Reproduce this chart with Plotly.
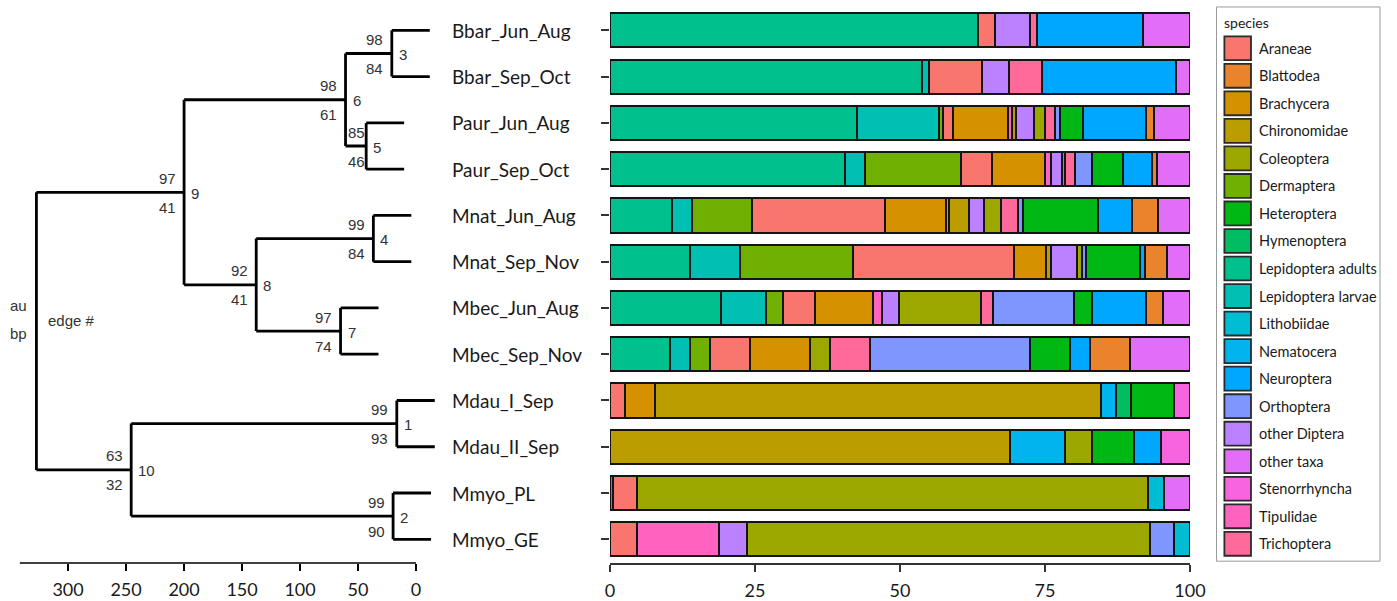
import math
import plotly.graph_objects as go

W, H = 1397, 601

# ---------------------------------------------------------------- data
samples = [
    "Bbar_Jun_Aug", "Bbar_Sep_Oct", "Paur_Jun_Aug", "Paur_Sep_Oct",
    "Mnat_Jun_Aug", "Mnat_Sep_Nov", "Mbec_Jun_Aug", "Mbec_Sep_Nov",
    "Mdau_I_Sep", "Mdau_II_Sep", "Mmyo_PL", "Mmyo_GE",
]

# diet composition (% of reads) per sample, in the order of `samples`; None = absent
araneae            = [3.0, 9.1, 1.7, 5.3, 23.0, 27.7, 5.6, 7.0, 2.5, None, 4.1, 4.7]
blattodea          = [None, None, 1.4, 1.0, 4.5, 3.8, 3.0, 7.0, None, None, None, None]
brachycera         = [None, None, 9.5, 9.2, 10.5, 5.6, 9.9, 10.3, 5.2, None, None, None]
chironomidae       = [None, None, 0.7, None, 3.5, 0.8, None, None, 77.0, 69.0, None, None]
coleoptera         = [None, None, 1.8, 0.5, 2.9, 0.9, 14.1, 3.5, None, 4.8, 88.1, 69.5]
dermaptera         = [None, None, 0.7, 16.7, 10.3, 19.5, 2.9, 3.4, None, None, None, None]
heteroptera        = [None, None, 3.9, 5.2, 12.9, 9.3, 3.1, 7.0, 7.5, 7.2, None, None]
hymenoptera        = [None, None, None, None, None, None, None, None, 2.6, None, None, None]
lepidoptera_adults = [63.4, 53.8, 42.6, 40.6, 10.7, 13.8, 19.1, 10.3, None, None, 0.6, None]
lepidoptera_larvae = [None, 1.2, 14.1, 3.3, 3.5, 8.6, 7.8, 3.5, None, None, None, None]
lithobiidae        = [None, None, None, None, None, None, None, None, None, None, 2.8, 2.7]
nematocera         = [None, None, None, None, None, None, None, None, 2.5, 9.4, None, None]
neuroptera         = [18.2, 23.1, 10.9, 5.0, 5.8, 0.9, 9.3, 3.3, None, 4.7, None, None]
orthoptera         = [None, None, 0.9, 3.0, 0.9, 0.7, 14.0, 27.5, None, None, None, 4.2]
other_diptera      = [6.1, 4.7, 3.1, 2.0, 2.6, 4.5, 2.9, None, None, None, None, 4.8]
other_taxa         = [8.1, 2.4, 6.2, 5.6, 5.5, 3.9, 4.6, 10.3, None, None, 4.4, None]
stenorrhyncha      = [None, None, None, None, None, None, None, None, 2.7, 4.9, None, None]
tipulidae          = [None, None, 0.8, 0.9, 0.4, None, 1.6, None, None, None, None, 14.1]
trichoptera        = [1.2, 5.7, 1.7, 1.7, 3.0, None, 2.1, 6.9, None, None, None, None]

# legend (factor level) order
species = [
    "Araneae", "Blattodea", "Brachycera", "Chironomidae", "Coleoptera",
    "Dermaptera", "Heteroptera", "Hymenoptera", "Lepidoptera adults",
    "Lepidoptera larvae", "Lithobiidae", "Nematocera", "Neuroptera",
    "Orthoptera", "other Diptera", "other taxa", "Stenorrhyncha",
    "Tipulidae", "Trichoptera",
]
values = {
    "Araneae": araneae, "Blattodea": blattodea, "Brachycera": brachycera,
    "Chironomidae": chironomidae, "Coleoptera": coleoptera,
    "Dermaptera": dermaptera, "Heteroptera": heteroptera,
    "Hymenoptera": hymenoptera, "Lepidoptera adults": lepidoptera_adults,
    "Lepidoptera larvae": lepidoptera_larvae, "Lithobiidae": lithobiidae,
    "Nematocera": nematocera, "Neuroptera": neuroptera,
    "Orthoptera": orthoptera, "other Diptera": other_diptera,
    "other taxa": other_taxa, "Stenorrhyncha": stenorrhyncha,
    "Tipulidae": tipulidae, "Trichoptera": trichoptera,
}

# order in which segments are stacked from left to right
stack_order = [
    "Lepidoptera adults", "Lepidoptera larvae", "Dermaptera", "Araneae",
    "Brachycera", "Tipulidae", "Chironomidae", "Nematocera", "other Diptera",
    "Coleoptera", "Trichoptera", "Orthoptera", "Hymenoptera", "Heteroptera",
    "Neuroptera", "Blattodea", "Lithobiidae", "other taxa", "Stenorrhyncha",
]

# pvclust tree: edge numbers 1..10 plus the root (11)
node_ids      = [1, 2, 3, 4, 5, 6, 7, 8, 9, 10, 11]
node_heights  = [16.6, 19.8, 20.9, 36.8, 43.0, 60.8, 65.1, 137.8, 200.0, 245.6, 327.3]
node_children = [
    ("Mdau_I_Sep", "Mdau_II_Sep"), ("Mmyo_PL", "Mmyo_GE"),
    ("Bbar_Jun_Aug", "Bbar_Sep_Oct"), ("Mnat_Jun_Aug", "Mnat_Sep_Nov"),
    ("Paur_Jun_Aug", "Paur_Sep_Oct"), (3, 5),
    ("Mbec_Jun_Aug", "Mbec_Sep_Nov"), (4, 7), (6, 8), (1, 2), (9, 10),
]
node_au = [99, 99, 98, 99, 85, 98, 97, 92, 97, 63, None]
node_bp = [93, 90, 84, 84, 46, 61, 74, 41, 41, 32, None]

dendro_ticks = [0, 50, 100, 150, 200, 250, 300]
bar_ticks = [0, 25, 50, 75, 100]


# ---------------------------------------------------------------- colours
def hue_pal(n, h_start=15.0, c=100.0, l=65.0):
    """ggplot2-style evenly spaced HCL hues."""
    wy, wu, wv = 100.0, 0.1978398, 0.4683363

    def gtrans(u):
        u = 1.055 * u ** (1 / 2.4) - 0.055 if u > 0.00304 else 12.92 * u
        return max(0, min(255, int(round(255 * u))))

    out = []
    for i in range(n):
        h = math.radians(h_start + i * 360.0 / n)
        U, V = c * math.cos(h), c * math.sin(h)
        Y = wy * ((l + 16) / 116) ** 3
        u = U / (13 * l) + wu
        v = V / (13 * l) + wv
        X = 9.0 * Y * u / (4 * v)
        Z = -X / 3 - 5 * Y + 3 * Y / v
        r = gtrans((3.240479 * X - 1.537150 * Y - 0.498535 * Z) / wy)
        g = gtrans((-0.969256 * X + 1.875992 * Y + 0.041556 * Z) / wy)
        b = gtrans((0.055648 * X - 0.204043 * Y + 1.057311 * Z) / wy)
        out.append("#%02X%02X%02X" % (r, g, b))
    return out


colors = dict(zip(species, hue_pal(len(species))))

# ---------------------------------------------------------------- layout geometry
row_of = {s: i for i, s in enumerate(samples)}
rows = list(range(len(samples)))
y_bottom = 1 - 565.7 / H          # bottom of both panels (axis line)
y_range = [11.51, -0.656]         # reversed: first sample on top

TEXT = "#1a1a1a"
NUM_FONT = "Lato"
LBL_FONT = "Liberation Sans"
EDGE = "#141414"

fig = go.Figure()

# ---------------------------------------------------------------- dendrogram
hang = 0.1 * max(node_heights)
node_h = dict(zip(node_ids, node_heights))
node_y = {}
seg_x, seg_y = [], []


def child_pos(ch, parent_h):
    if isinstance(ch, str):
        y = row_of[ch]
        seg_x.extend([parent_h, parent_h - hang, None])
        seg_y.extend([y, y, None])
        return y
    seg_x.extend([parent_h, node_h[ch], None])
    seg_y.extend([node_y[ch], node_y[ch], None])
    return node_y[ch]


for nid, h, (a, b) in zip(node_ids, node_heights, node_children):
    ya = child_pos(a, h)
    yb = child_pos(b, h)
    seg_x.extend([h, h, None])
    seg_y.extend([ya, yb, None])
    node_y[nid] = (ya + yb) / 2

fig.add_trace(go.Scatter(
    x=seg_x, y=seg_y, mode="lines", xaxis="x", yaxis="y",
    line=dict(color="black", width=2.8), hoverinfo="skip", showlegend=False,
))

annotations = []
label_font = dict(family=LBL_FONT, size=15, color="#333333")
au_shift = {5: -10}
for nid, au, bp in zip(node_ids, node_au, node_bp):
    h, y = node_h[nid], node_y[nid]
    if au is None:
        continue
    dx = au_shift.get(nid, -17)
    annotations.append(dict(x=h, y=y, xref="x", yref="y", text=str(au),
                            showarrow=False, xanchor="center", yanchor="middle",
                            xshift=dx, yshift=14, font=label_font))
    annotations.append(dict(x=h, y=y, xref="x", yref="y", text=str(bp),
                            showarrow=False, xanchor="center", yanchor="middle",
                            xshift=dx, yshift=-15, font=label_font))
    annotations.append(dict(x=h, y=y, xref="x", yref="y", text=str(nid),
                            showarrow=False, xanchor="left", yanchor="middle",
                            xshift=5, yshift=-1, font=label_font))

# key for the node labels, next to the root
root = node_ids[-1]
rh, ry = node_h[root], node_y[root]
for txt, anchor, dx, dy in (("au", "right", -7, 26), ("bp", "right", -7, -2),
                            ("edge #", "left", 10, 11)):
    annotations.append(dict(x=rh, y=ry, xref="x", yref="y", text=txt,
                            showarrow=False, xanchor=anchor, yanchor="middle",
                            xshift=dx, yshift=dy, font=label_font))

# ---------------------------------------------------------------- stacked bars
for sp in stack_order:
    fig.add_trace(go.Bar(
        x=values[sp], y=rows, orientation="h", name=sp,
        xaxis="x2", yaxis="y2", width=0.74,
        marker=dict(color=colors[sp], line=dict(color=EDGE, width=2)),
        showlegend=False,
    ))

# sample names between the two panels
for s in samples:
    annotations.append(dict(x=452 / W, y=row_of[s], xref="paper", yref="y",
                            text=s, showarrow=False, xanchor="left",
                            yanchor="middle",
                            font=dict(family=NUM_FONT, size=19, color=TEXT)))

# ---------------------------------------------------------------- legend box
shapes = []


def px_x(px):
    return px / W


def px_y(py):
    return 1 - py / H


shapes.append(dict(type="rect", xref="paper", yref="paper",
                   x0=px_x(1230), x1=px_x(1396), y0=px_y(7), y1=px_y(564),
                   line=dict(color="#9a9a9a", width=1), fillcolor="white",
                   layer="below"))
annotations.append(dict(x=px_x(1236), y=px_y(23), xref="paper", yref="paper",
                        text="species", showarrow=False, xanchor="left",
                        yanchor="middle",
                        font=dict(family=NUM_FONT, size=14, color=TEXT)))
pitch = 27.67
for i, sp in enumerate(species):
    top = 36.5 + i * pitch
    shapes.append(dict(type="rect", xref="paper", yref="paper",
                       x0=px_x(1238), x1=px_x(1265), y0=px_y(top + 24),
                       y1=px_y(top), fillcolor=colors[sp],
                       line=dict(color="#2a2a2a", width=1.8)))
    annotations.append(dict(x=px_x(1271), y=px_y(top + 12), xref="paper",
                            yref="paper", text=sp, showarrow=False,
                            xanchor="left", yanchor="middle",
                            font=dict(family=NUM_FONT, size=14.5, color=TEXT)))

# axis line of the dendrogram (only across the height scale)
shapes.append(dict(type="line", xref="x", yref="paper",
                   x0=341.6, x1=0, y0=y_bottom, y1=y_bottom,
                   line=dict(color="black", width=1.5)))

# ---------------------------------------------------------------- axes
tickfont = dict(family=NUM_FONT, size=18, color=TEXT)
fig.update_layout(
    width=W, height=H,
    margin=dict(l=0, r=0, t=0, b=0),
    paper_bgcolor="white", plot_bgcolor="white",
    barmode="stack", bargap=0,
    showlegend=False,
    xaxis=dict(domain=[10 / W, 445 / W], range=[345.9, -23.5], anchor="y",
               tickvals=dendro_ticks, ticks="outside", ticklen=7,
               tickwidth=1.5, tickcolor="black", showline=False,
               showgrid=False, zeroline=False, tickfont=tickfont,
               ticklabelstandoff=4),
    yaxis=dict(domain=[y_bottom, 1], range=y_range, anchor="x",
               visible=False, showgrid=False, zeroline=False),
    xaxis2=dict(domain=[614.3 / W, 1203 / W], range=[0, 100], anchor="y2",
                tickvals=bar_ticks, ticks="outside", ticklen=7,
                tickwidth=1.5, tickcolor="#333333", showline=True,
                linecolor="#333333", linewidth=1.5, showgrid=False,
                zeroline=False, tickfont=tickfont, ticklabelstandoff=4),
    yaxis2=dict(domain=[y_bottom, 1], range=y_range, anchor="x2",
                tickvals=rows, ticks="outside", ticklen=8, tickwidth=1.5,
                tickcolor="#333333", showticklabels=False, showline=False,
                showgrid=False, zeroline=False),
    annotations=annotations,
    shapes=shapes,
)

fig.write_html("out.html")
